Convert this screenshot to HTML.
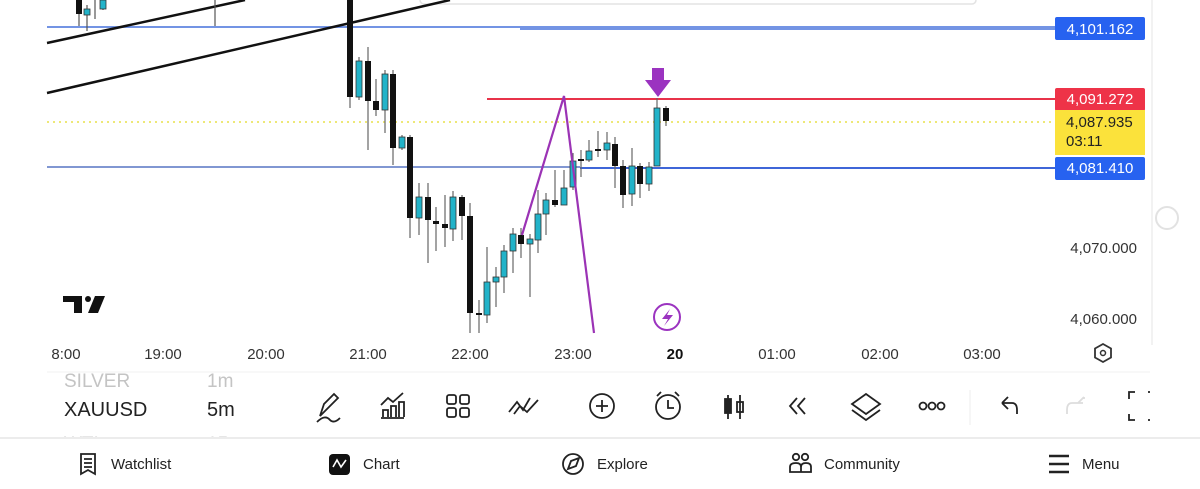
<!DOCTYPE html>
<html><head><meta charset="utf-8"><style>
html,body{margin:0;padding:0;background:#fff;width:1200px;height:489px;overflow:hidden;font-family:"Liberation Sans",sans-serif}
</style></head><body>
<svg width="1200" height="489" viewBox="0 0 1200 489" xmlns="http://www.w3.org/2000/svg" font-family="Liberation Sans, sans-serif">
<defs>
<clipPath id="tb"><rect x="0" y="372" width="1200" height="65"/></clipPath>
</defs>
<rect width="1200" height="489" fill="#fff"/>
<rect x="420" y="-6" width="556" height="10" rx="4" fill="#fff" stroke="#e3e3e3" stroke-width="1.5"/>
<line x1="1152" y1="0" x2="1152" y2="345" stroke="#eeeeee" stroke-width="1.5"/>
<line x1="47" y1="27" x2="1055" y2="27" stroke="#5f84e0" stroke-width="1.8"/>
<line x1="520" y1="29" x2="1055" y2="29" stroke="#5f84e0" stroke-width="1.8"/>
<line x1="487" y1="99" x2="1055" y2="99" stroke="#e8334a" stroke-width="2"/>
<line x1="47" y1="122" x2="1055" y2="122" stroke="#e8e04a" stroke-width="1.5" stroke-dasharray="2,4"/>
<line x1="47" y1="167" x2="580" y2="167" stroke="#6f88cc" stroke-width="1.8"/>
<line x1="580" y1="168" x2="1055" y2="168" stroke="#3f66d8" stroke-width="2"/>
<line x1="47" y1="43" x2="245" y2="0" stroke="#111" stroke-width="2.5"/>
<line x1="47" y1="93" x2="450" y2="0" stroke="#111" stroke-width="2.5"/>
<g stroke="#555" stroke-width="1.2">
<line x1="79" y1="0" x2="79" y2="26"/><line x1="87" y1="5" x2="87" y2="31"/><line x1="95" y1="0" x2="95" y2="19"/><line x1="103" y1="0" x2="103" y2="10"/><line x1="215" y1="0" x2="215" y2="26"/>
</g>
<rect x="76" y="0" width="6" height="14" fill="#111"/>
<rect x="84" y="9" width="6" height="6" fill="#22b3c9" stroke="#333" stroke-width="0.8"/>
<rect x="100" y="0" width="6" height="9" fill="#22b3c9" stroke="#333" stroke-width="0.8"/>
<g stroke="#666" stroke-width="1.2">
<line x1="350" y1="0" x2="350" y2="108"/>
<line x1="359" y1="57" x2="359" y2="100"/>
<line x1="368" y1="47" x2="368" y2="150"/>
<line x1="376" y1="79" x2="376" y2="116"/>
<line x1="385" y1="70" x2="385" y2="133"/>
<line x1="393" y1="70" x2="393" y2="165"/>
<line x1="402" y1="135" x2="402" y2="150"/>
<line x1="410" y1="135" x2="410" y2="238"/>
<line x1="419" y1="183" x2="419" y2="235"/>
<line x1="428" y1="183" x2="428" y2="263"/>
<line x1="436" y1="207" x2="436" y2="251"/>
<line x1="445" y1="195" x2="445" y2="247"/>
<line x1="453" y1="191" x2="453" y2="241"/>
<line x1="462" y1="195" x2="462" y2="240"/>
<line x1="470" y1="203" x2="470" y2="333"/>
<line x1="479" y1="300" x2="479" y2="333"/>
<line x1="487" y1="247" x2="487" y2="323"/>
<line x1="496" y1="267" x2="496" y2="307"/>
<line x1="504" y1="245" x2="504" y2="293"/>
<line x1="513" y1="228" x2="513" y2="273"/>
<line x1="521" y1="228" x2="521" y2="258"/>
<line x1="530" y1="234" x2="530" y2="297"/>
<line x1="538" y1="190" x2="538" y2="253"/>
<line x1="546" y1="193" x2="546" y2="235"/>
<line x1="555" y1="170" x2="555" y2="207"/>
<line x1="564" y1="170" x2="564" y2="205"/>
<line x1="573" y1="153" x2="573" y2="190"/>
<line x1="581" y1="150" x2="581" y2="177"/>
<line x1="589" y1="140" x2="589" y2="162"/>
<line x1="598" y1="131" x2="598" y2="157"/>
<line x1="607" y1="132" x2="607" y2="160"/>
<line x1="615" y1="137" x2="615" y2="188"/>
<line x1="623" y1="160" x2="623" y2="208"/>
<line x1="632" y1="148" x2="632" y2="206"/>
<line x1="640" y1="163" x2="640" y2="198"/>
<line x1="649" y1="162" x2="649" y2="191"/>
<line x1="657" y1="98" x2="657" y2="166"/>
<line x1="666" y1="106" x2="666" y2="126"/>
</g>
<g fill="#111">
<rect x="347" y="0" width="6" height="97"/>
<rect x="365" y="61" width="6" height="40"/>
<rect x="373" y="101" width="6" height="9"/>
<rect x="390" y="74" width="6" height="74"/>
<rect x="407" y="137" width="6" height="81"/>
<rect x="425" y="197" width="6" height="23"/>
<rect x="433" y="221" width="6" height="3"/>
<rect x="442" y="224" width="6" height="4"/>
<rect x="459" y="197" width="6" height="19"/>
<rect x="467" y="216" width="6" height="97"/>
<rect x="476" y="313" width="6" height="2"/>
<rect x="518" y="235" width="6" height="9"/>
<rect x="552" y="200" width="6" height="5"/>
<rect x="578" y="159" width="6" height="2"/>
<rect x="595" y="149" width="6" height="2"/>
<rect x="612" y="144" width="6" height="22"/>
<rect x="620" y="166" width="6" height="29"/>
<rect x="637" y="166" width="6" height="18"/>
<rect x="663" y="108" width="6" height="13"/>
</g>
<g fill="#22b3c9" stroke="#333" stroke-width="0.8">
<rect x="356" y="61" width="6" height="36"/>
<rect x="382" y="74" width="6" height="36"/>
<rect x="399" y="137" width="6" height="11"/>
<rect x="416" y="197" width="6" height="21"/>
<rect x="450" y="197" width="6" height="32"/>
<rect x="484" y="282" width="6" height="33"/>
<rect x="493" y="277" width="6" height="5"/>
<rect x="501" y="251" width="6" height="26"/>
<rect x="510" y="234" width="6" height="17"/>
<rect x="527" y="239" width="6" height="5"/>
<rect x="535" y="214" width="6" height="26"/>
<rect x="543" y="200" width="6" height="14"/>
<rect x="561" y="188" width="6" height="17"/>
<rect x="570" y="161" width="6" height="26"/>
<rect x="586" y="151" width="6" height="9"/>
<rect x="604" y="143" width="6" height="7"/>
<rect x="629" y="166" width="6" height="28"/>
<rect x="646" y="167" width="6" height="17"/>
<rect x="654" y="108" width="6" height="58"/>
</g>
<polyline points="522,235 564,96 594,333" fill="none" stroke="#9b33b5" stroke-width="2.2"/>
<path d="M652,68 H664 V80 H671 L658,97 L645,80 H652 Z" fill="#9b33c0"/>
<circle cx="667" cy="317" r="13" fill="#fff" stroke="#9b33c0" stroke-width="2"/>
<path d="M670,309 L662,319 H668 L664,326 L673,315 H667 Z" fill="#9b33c0"/>
<path d="M63,296 H82 V313 H74 V302 H63 Z" fill="#111"/>
<circle cx="88" cy="299" r="3" fill="#111"/>
<path d="M95,296 H105 L98,313 H88 Z" fill="#111"/>
<rect x="1055" y="17" width="90" height="23" rx="2" fill="#2762f0"/>
<text x="1100" y="34" font-size="15" fill="#fff" text-anchor="middle">4,101.162</text>
<rect x="1055" y="88" width="90" height="23" rx="2" fill="#ee3348"/>
<text x="1100" y="104" font-size="15" fill="#fff" text-anchor="middle">4,091.272</text>
<rect x="1055" y="110" width="90" height="45" fill="#fbe23b"/>
<text x="1066" y="127" font-size="15" fill="#222">4,087.935</text>
<text x="1066" y="146" font-size="15" fill="#222">03:11</text>
<rect x="1055" y="157" width="90" height="23" rx="2" fill="#2762f0"/>
<text x="1100" y="173" font-size="15" fill="#fff" text-anchor="middle">4,081.410</text>
<text x="1137" y="253" font-size="15" fill="#333" text-anchor="end">4,070.000</text>
<text x="1137" y="324" font-size="15" fill="#333" text-anchor="end">4,060.000</text>
<circle cx="1167" cy="218" r="11" fill="none" stroke="#e2e2e2" stroke-width="2"/>
<g font-size="15" fill="#333" text-anchor="middle">
<text x="66" y="359">8:00</text><text x="163" y="359">19:00</text><text x="266" y="359">20:00</text>
<text x="368" y="359">21:00</text><text x="470" y="359">22:00</text><text x="573" y="359">23:00</text>
<text x="675" y="359" font-weight="bold" fill="#111">20</text><text x="777" y="359">01:00</text>
<text x="880" y="359">02:00</text><text x="982" y="359">03:00</text>
</g>
<path d="M1103,344 L1111,348.5 V357.5 L1103,362 L1095,357.5 V348.5 Z" fill="none" stroke="#333" stroke-width="1.8"/>
<circle cx="1103" cy="353" r="2.5" fill="none" stroke="#333" stroke-width="1.5"/>
<line x1="47" y1="372" x2="1150" y2="372" stroke="#f0f0f0" stroke-width="1"/>
<g clip-path="url(#tb)">
<text x="64" y="387" font-size="19" fill="#c4c4c4">SILVER</text>
<text x="207" y="387" font-size="19" fill="#c4c4c4">1m</text>
<text x="64" y="450" font-size="19" fill="#ccc">WTI</text>
<text x="207" y="450" font-size="19" fill="#ccc">15m</text>
</g>
<text x="64" y="416" font-size="20" fill="#222">XAUUSD</text>
<text x="207" y="416" font-size="20" fill="#222">5m</text>
<g fill="none" stroke="#222" stroke-width="1.8">
<path d="M320,416 L324,404 L334,394 L338,398 L328,408 Z M317,422 Q325,414 330,420 Q334,424 340,418"/>
<path d="M381,418 H404 M383,417 V410 H388 V417 M391,417 V406 H396 V417 M399,417 V402 H404 V417 M381,405 L388,398 L393,402 L403,393"/>
<rect x="447" y="395" width="9" height="9" rx="2"/><rect x="460" y="395" width="9" height="9" rx="2"/><rect x="447" y="408" width="9" height="9" rx="2"/><rect x="460" y="408" width="9" height="9" rx="2"/>
<path d="M509,412 L517,402 L523,410 L530,398 M514,414 L520,406 L527,412 L538,400"/>
<circle cx="602" cy="406" r="12"/><path d="M602,400 V412 M596,406 H608"/>
<circle cx="668" cy="407" r="12"/><path d="M668,400 V408 H674 M657,396 L661,392 M679,396 L675,392"/>
<path d="M728,395 V419 M740,395 V419"/><rect x="725" y="399" width="6" height="14" fill="#222"/><rect x="737" y="402" width="6" height="10"/>
<path d="M797,398 L790,406 L797,414 M805,398 L798,406 L805,414"/>
<path d="M866,394 L880,404 L866,414 L852,404 Z M852,410 L866,420 L880,410"/>
<circle cx="923" cy="406" r="3.5"/><circle cx="932" cy="406" r="3.5"/><circle cx="941" cy="406" r="3.5"/>
<path d="M1002,403 L1008,397 M1002,403 L1008,409 M1002,403 H1012 Q1017,403 1017,410 V414"/>
</g>
<path d="M1078,403 L1084,397 M1084,397 L1084,399 M1067,414 V410 Q1067,403 1072,403 H1083" fill="none" stroke="#ddd" stroke-width="1.8"/>
<path d="M1135,392 H1129 V399 M1129,414 V420 H1135 M1148,392 H1150 M1148,420 H1150" fill="none" stroke="#222" stroke-width="1.8"/>
<line x1="970" y1="390" x2="970" y2="425" stroke="#eee"/>
<line x1="0" y1="438" x2="1200" y2="438" stroke="#e6e6e6" stroke-width="1.5"/>
<g font-size="15" fill="#222">
<text x="111" y="469">Watchlist</text><text x="363" y="469">Chart</text><text x="597" y="469">Explore</text>
<text x="824" y="469">Community</text><text x="1082" y="469">Menu</text>
</g>
<g fill="none" stroke="#222" stroke-width="1.8">
<path d="M81,454 H95 V474 L88,470 L81,474 Z M84,459 H92 M84,463 H92 M84,467 H92"/>
<circle cx="573" cy="464" r="10"/><path d="M568,469 L571,461 L579,458 L576,466 Z"/>
<circle cx="796" cy="457" r="3.2"/><circle cx="805" cy="457" r="3.2"/><path d="M790,472 V467 Q790,463 796,463 Q801,463 801,467 V472 Z M801,467 Q801,463 806,463 Q811,463 811,467 V472 H801"/>
<path d="M1049,456 H1069 M1049,464 H1069 M1049,472 H1069" stroke-width="2.4"/>
</g>
<rect x="329" y="454" width="21" height="21" rx="4" fill="#111"/>
<path d="M333,467 L337,460 L341,467 L346,460" fill="none" stroke="#fff" stroke-width="1.6"/>
</svg>
</body></html>
